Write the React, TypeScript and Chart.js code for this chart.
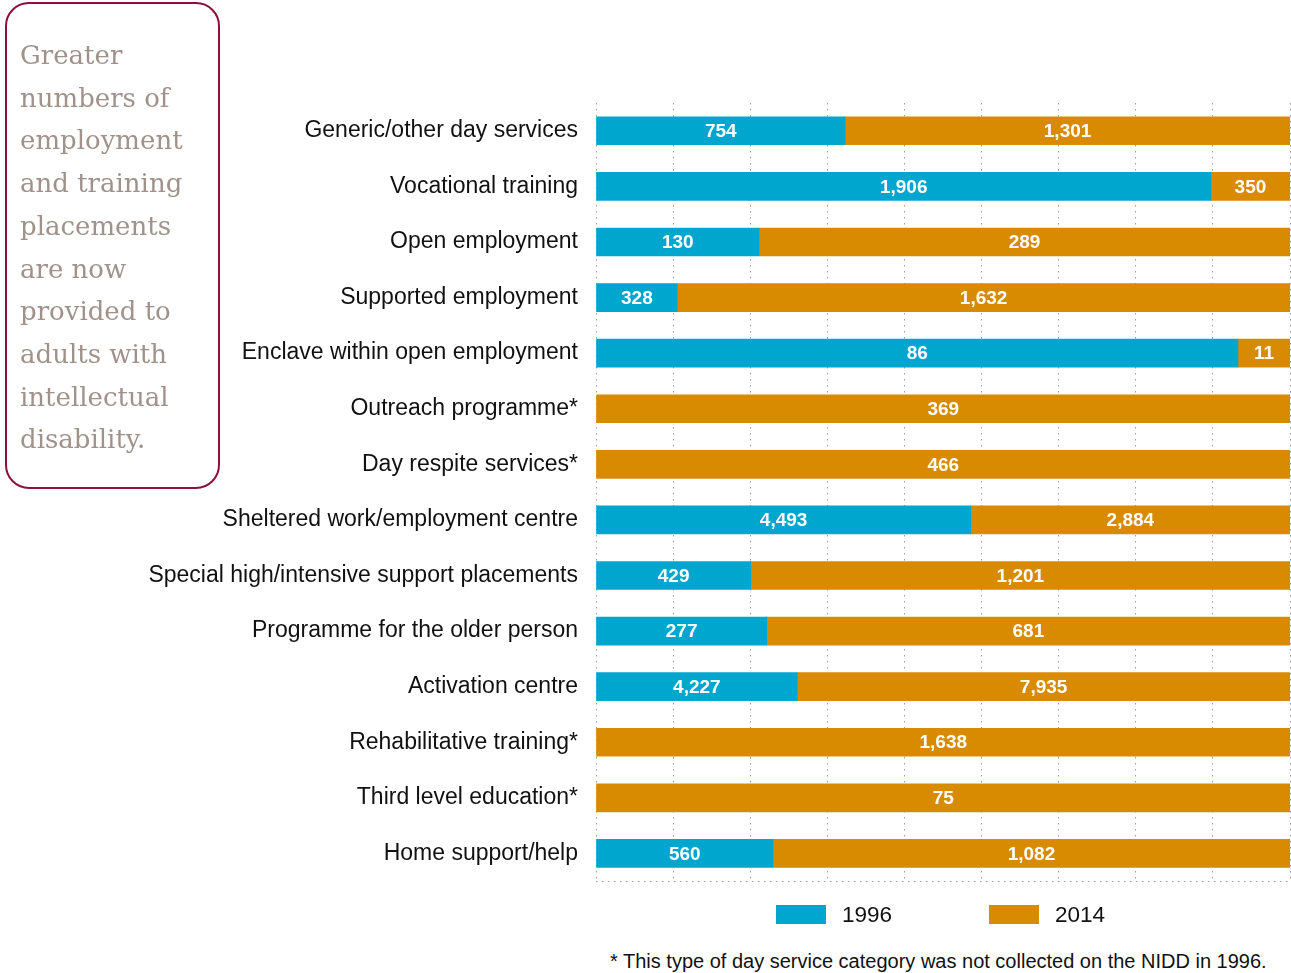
import React, { useEffect, useRef } from "react";
import { Chart, registerables } from "chart.js";

Chart.register(...registerables);

// Day service categories (top to bottom)
const categories = [
  "Generic/other day services",
  "Vocational training",
  "Open employment",
  "Supported employment",
  "Enclave within open employment",
  "Outreach programme*",
  "Day respite services*",
  "Sheltered work/employment centre",
  "Special high/intensive support placements",
  "Programme for the older person",
  "Activation centre",
  "Rehabilitative training*",
  "Third level education*",
  "Home support/help",
];

// Bar share of the full row width (%)
const share1996 = [35.9, 88.6, 23.5, 11.7, 92.5, null, null, 54.0, 22.3, 24.6, 29.0, null, null, 25.5];
const share2014 = [64.1, 11.4, 76.5, 88.3, 7.5, 100, 100, 46.0, 77.7, 75.4, 71.0, 100, 100, 74.5];

// Numbers shown on the bars
const count1996 = [754, 1906, 130, 328, 86, null, null, 4493, 429, 277, 4227, null, null, 560];
const count2014 = [1301, 350, 289, 1632, 11, 369, 466, 2884, 1201, 681, 7935, 1638, 75, 1082];

const seriesNames = ["1996", "2014"];
const gridDivisions = 9;

const BLUE = "#00A6CE";
const ORANGE = "#D88A00";
const SANS = '"Liberation Sans", Arial, Helvetica, sans-serif';

const calloutLines = [
  "Greater",
  "numbers of",
  "employment",
  "and training",
  "placements",
  "are now",
  "provided to",
  "adults with",
  "intellectual",
  "disability.",
];
const footnote = "* This type of day service category was not collected on the NIDD in 1996.";

export default function App() {
  const canvasRef = useRef<HTMLCanvasElement | null>(null);

  useEffect(() => {
    const counts = [count1996, count2014];
    const valueLabels = {
      id: "valueLabels",
      afterDatasetsDraw(chart: any) {
        const ctx = chart.ctx;
        ctx.save();
        ctx.fillStyle = "#ffffff";
        ctx.font = `bold 19px ${SANS}`;
        ctx.textAlign = "center";
        ctx.textBaseline = "middle";
        counts.forEach((arr, d) => {
          const meta = chart.getDatasetMeta(d);
          meta.data.forEach((bar: any, i: number) => {
            const v = arr[i];
            if (v == null) return;
            const p = bar.getProps(["x", "y", "base"], true);
            ctx.fillText(v.toLocaleString("en-US"), (p.x + p.base) / 2, p.y + 1);
          });
        });
        ctx.restore();
      },
    };
    const bottomLine = {
      id: "bottomLine",
      beforeDatasetsDraw(chart: any) {
        const { ctx, chartArea } = chart;
        ctx.save();
        ctx.strokeStyle = "#9a9a9a";
        ctx.lineWidth = 1;
        ctx.setLineDash([1.5, 4.5]);
        ctx.beginPath();
        const y = Math.round(chartArea.bottom) + 0.5;
        ctx.moveTo(chartArea.left, y);
        ctx.lineTo(chartArea.right, y);
        ctx.stroke();
        ctx.restore();
      },
    };

    const chart = new Chart(canvasRef.current as HTMLCanvasElement, {
      type: "bar",
      data: {
        labels: categories,
        datasets: [
          { label: seriesNames[0], data: share1996 as any, backgroundColor: BLUE, borderWidth: 0, barThickness: 28 },
          { label: seriesNames[1], data: share2014 as any, backgroundColor: ORANGE, borderWidth: 0, barThickness: 28 },
        ],
      },
      options: {
        indexAxis: "y",
        responsive: false,
        animation: false,
        layout: { padding: { top: 103, bottom: 8, left: 0, right: 1 } },
        plugins: { legend: { display: false }, tooltip: { enabled: false } },
        scales: {
          x: {
            stacked: true,
            min: 0,
            max: 100,
            ticks: { display: false },
            afterBuildTicks: (scale: any) => {
              scale.ticks = Array.from({ length: gridDivisions + 1 }, (_, k) => ({ value: (k * 100) / gridDivisions }));
            },
            afterFit: (scale: any) => {
              scale.height = 0;
            },
            grid: { color: "#9a9a9a", lineWidth: 1, drawTicks: false },
            border: { display: false, dash: [1.5, 4.5] },
          },
          y: {
            stacked: true,
            grid: { display: false, drawTicks: false },
            border: { display: false },
            ticks: { padding: 18, color: "#111111", font: { family: SANS, size: 23 } },
            afterFit: (scale: any) => {
              scale.width = 596;
            },
          },
        },
      },
      plugins: [valueLabels, bottomLine],
    });
    return () => chart.destroy();
  }, []);

  return (
    <div style={{ position: "absolute", left: 0, top: 0, width: 1291, height: 973, background: "#fff", overflow: "hidden" }}>
      <canvas ref={canvasRef} width={1291} height={913} style={{ position: "absolute", left: 0, top: 0 }} />
      <div
        style={{
          position: "absolute",
          left: 5,
          top: 2,
          width: 215,
          height: 487,
          boxSizing: "border-box",
          border: "2.5px solid #8E0F3F",
          borderRadius: 24,
          padding: "30px 0 0 13px",
          fontFamily: '"DejaVu Serif", serif',
          fontSize: 26,
          lineHeight: "42.7px",
          color: "#A0928A",
          whiteSpace: "nowrap",
        }}
      >
        {calloutLines.map((l, i) => (
          <div key={i}>{l}</div>
        ))}
      </div>
      {seriesNames.map((name, i) => (
        <div key={name} style={{ position: "absolute", left: i === 0 ? 776 : 989, top: 905, height: 19, display: "flex", alignItems: "center" }}>
          <div style={{ width: 50, height: 19, background: i === 0 ? BLUE : ORANGE }} />
          <span style={{ marginLeft: 16, fontFamily: SANS, fontSize: 22.5, color: "#111", lineHeight: "19px" }}>{name}</span>
        </div>
      ))}
      <div style={{ position: "absolute", left: 610, top: 950, fontFamily: SANS, fontSize: 20, color: "#111", whiteSpace: "nowrap" }}>
        {footnote}
      </div>
    </div>
  );
}
